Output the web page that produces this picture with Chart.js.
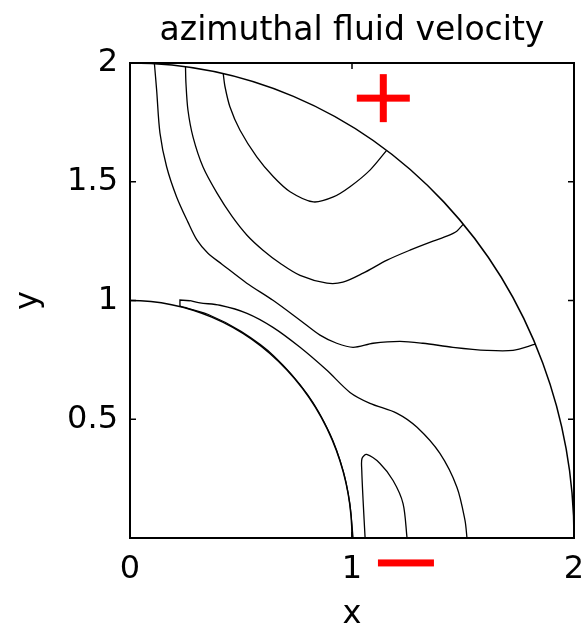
<!DOCTYPE html>
<html>
<head>
<meta charset="utf-8">
<script src="https://cdn.jsdelivr.net/npm/chart.js@4/dist/chart.umd.min.js"></script>
<style>
html,body{margin:0;padding:0;background:#fff;}
canvas{display:block;}
</style>
</head>
<body>
<canvas id="c" width="583" height="628"></canvas>
<script>
// ---- data ----
const titleText = 'azimuthal fluid velocity';
const xTicks = [0, 1, 2];
const yTicks = [0.5, 1, 1.5, 2];
const boundaryRadii = [1, 2];          // inner and outer walls of the annulus

const contourA = [[0.420,1.955],[0.428,1.900],[0.450,1.816],[0.495,1.718],[0.571,1.605],[0.646,1.521],[0.721,1.458],[0.826,1.415],[0.916,1.436],[0.991,1.479],[1.081,1.549],[1.156,1.632]];
const contourB = [[0.250,1.984],[0.252,1.916],[0.261,1.802],[0.284,1.688],[0.329,1.562],[0.392,1.452],[0.459,1.355],[0.527,1.275],[0.599,1.212],[0.676,1.157],[0.766,1.106],[0.887,1.073],[0.959,1.077],[1.050,1.115],[1.158,1.170],[1.261,1.212],[1.365,1.250],[1.430,1.272],[1.472,1.292],[1.500,1.320]];
const contourC = [[0.110,1.997],[0.120,1.886],[0.135,1.705],[0.165,1.563],[0.210,1.436],[0.261,1.330],[0.302,1.254],[0.351,1.199],[0.414,1.153],[0.526,1.073],[0.644,1.001],[0.766,0.917],[0.856,0.854],[0.931,0.820],[1.005,0.803],[1.095,0.820],[1.216,0.828],[1.320,0.820],[1.455,0.803],[1.608,0.790],[1.725,0.790],[1.826,0.816]];
const contourDNotch = [[0.225,0.975],[0.225,1.002],[0.270,0.999]];
const contourDOuter = [[0.270,0.999],[0.315,0.990],[0.405,0.980],[0.527,0.946],[0.644,0.887],[0.766,0.803],[0.887,0.706],[0.991,0.613],[1.081,0.567],[1.203,0.525],[1.293,0.466],[1.396,0.356],[1.473,0.213],[1.509,0.074],[1.518,0]];
const contourDInner = [[0.225,0.976],[0.350,0.942],[0.500,0.870],[0.650,0.765],[0.800,0.604],[0.900,0.440],[0.960,0.284],[0.990,0.146],[1.005,0]];
const contourE = [[1.059,0],[1.050,0.158],[1.044,0.285],[1.045,0.335],[1.066,0.352],[1.126,0.314],[1.185,0.242],[1.230,0.145],[1.248,0]];

const signLabels = ['+', '\u2212'];
const signX = [1.141, 1.243];
const signY = [1.852, -0.105];

// ---- styles ----
const FONT = 'DejaVu Sans';
const toPts = arr => arr.map(p => ({x: p[0], y: p[1]}));
function lineSet(arr, tension, width) {
  return {data: toPts(arr), showLine: true, pointRadius: 0, borderColor: '#000',
          borderWidth: width || 1.3, tension: tension, fill: false};
}

const annulusPlugin = {
  id: 'annulus',
  beforeDatasetsDraw(chart) {
    const {ctx, chartArea: a, scales: {x, y}} = chart;
    const cx = x.getPixelForValue(0), cy = y.getPixelForValue(0);
    ctx.save();
    ctx.beginPath(); ctx.rect(a.left - 1, a.top - 1, a.right - a.left + 2, a.bottom - a.top + 2); ctx.clip();
    ctx.strokeStyle = '#000'; ctx.lineWidth = 1.5;
    boundaryRadii.forEach(r => {
      const rx = x.getPixelForValue(r) - cx, ry = cy - y.getPixelForValue(r);
      ctx.beginPath(); ctx.ellipse(cx, cy, rx, ry, 0, -Math.PI / 2, 0); ctx.stroke();
    });
    ctx.restore();
  },
  afterDatasetsDraw(chart) {
    const {ctx, chartArea: a, scales: {x, y}} = chart;
    ctx.save();
    ctx.strokeStyle = '#000'; ctx.lineWidth = 2;
    ctx.strokeRect(a.left, a.top, a.right - a.left, a.bottom - a.top);
    ctx.lineWidth = 1.5;
    const tl = 6;
    xTicks.forEach(v => {
      const px = x.getPixelForValue(v);
      ctx.beginPath(); ctx.moveTo(px, a.bottom); ctx.lineTo(px, a.bottom - tl);
      ctx.moveTo(px, a.top); ctx.lineTo(px, a.top + tl); ctx.stroke();
    });
    yTicks.forEach(v => {
      const py = y.getPixelForValue(v);
      ctx.beginPath(); ctx.moveTo(a.left, py); ctx.lineTo(a.left + tl, py);
      ctx.moveTo(a.right, py); ctx.lineTo(a.right - tl, py); ctx.stroke();
    });
    // red sign markers
    ctx.fillStyle = '#ff0000';
    signLabels.forEach((s, i) => {
      const px = x.getPixelForValue(signX[i]), py = y.getPixelForValue(signY[i]);
      if (s === '+') {
        ctx.fillRect(px - 26.5, py - 3.5, 53, 7);
        ctx.fillRect(px - 3.5, py - 24, 7, 48);
      } else {
        ctx.fillRect(px - 28, py - 3.5, 56, 7);
      }
    });
    ctx.restore();
  }
};

new Chart(document.getElementById('c'), {
  type: 'scatter',
  data: {
    datasets: [
      lineSet(contourA, 0.3),
      lineSet(contourB, 0.3),
      lineSet(contourC, 0.3),
      lineSet(contourDNotch, 0),
      lineSet(contourDOuter, 0.3),
      lineSet(contourDInner, 0.3, 1.2),
      lineSet(contourE, 0.3)
    ]
  },
  options: {
    responsive: false,
    animation: false,
    devicePixelRatio: 1,
    layout: {padding: 0},
    plugins: {
      legend: {display: false},
      tooltip: {enabled: false},
      title: {display: true, text: titleText, color: '#000', fullSize: false,
              font: {family: FONT, size: 33, weight: 'normal', lineHeight: 1.2},
              padding: {top: 12, bottom: 11.4}}
    },
    scales: {
      x: {
        type: 'linear', min: 0, max: 2,
        afterBuildTicks: s => { s.ticks = xTicks.map(v => ({value: v})); },
        afterFit: s => { s.height = 90; s.paddingRight = 9; s.paddingLeft = 0; },
        grid: {display: false, drawTicks: false},
        border: {display: false},
        ticks: {color: '#000', font: {family: FONT, size: 32}, padding: 12, maxRotation: 0, autoSkip: false,
                callback: v => String(v)},
        title: {display: true, text: 'x', color: '#000', font: {family: FONT, size: 32, lineHeight: 1},
                padding: {top: 0, bottom: -3}}
      },
      y: {
        type: 'linear', min: 0, max: 2,
        afterBuildTicks: s => { s.ticks = yTicks.map(v => ({value: v})); },
        afterFit: s => { s.width = 130; },
        grid: {display: false, drawTicks: false},
        border: {display: false},
        ticks: {color: '#000', font: {family: FONT, size: 32}, padding: 12, autoSkip: false,
                callback: v => String(v)},
        title: {display: true, text: 'y', color: '#000', font: {family: FONT, size: 32, lineHeight: 1},
                padding: {top: 13, bottom: 0}}
      }
    }
  },
  plugins: [annulusPlugin]
});
</script>
</body>
</html>
